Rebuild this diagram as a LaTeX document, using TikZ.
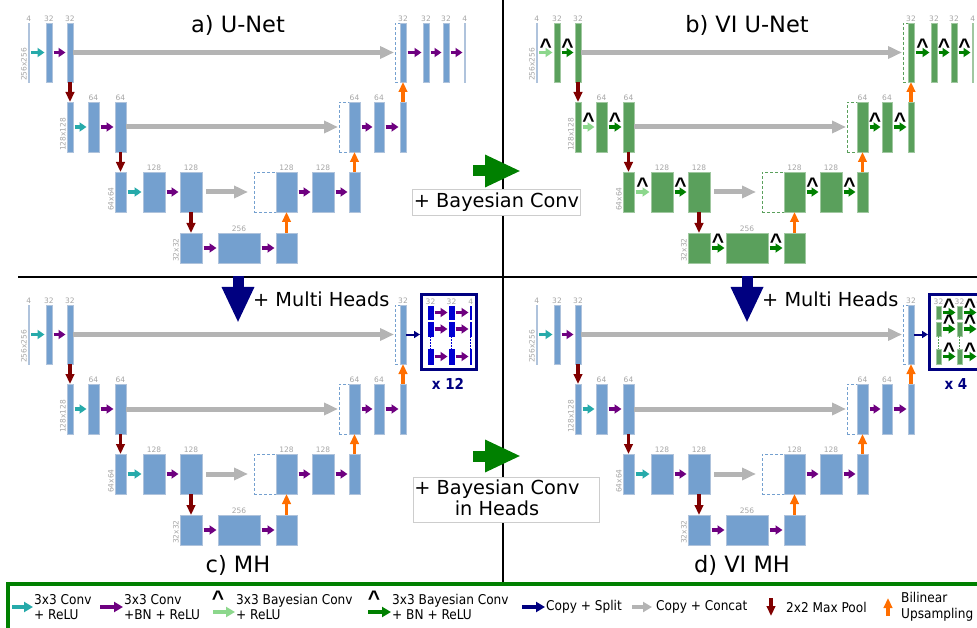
\documentclass[tikz,border=0pt]{standalone}
\usepackage{fontspec}
\setmainfont{DejaVu Sans}
\newfontfamily\lgfont{DejaVu Sans Condensed}
\newfontfamily\hatfont{Liberation Sans}
\usetikzlibrary{arrows.meta}
\definecolor{barblue}{RGB}{116,160,207}
\definecolor{barline}{RGB}{175,195,220}
\definecolor{bargreen}{RGB}{90,160,92}
\definecolor{bargline}{RGB}{160,200,160}
\definecolor{tealc}{RGB}{38,170,170}
\definecolor{purplec}{RGB}{110,0,128}
\definecolor{ltgreen}{RGB}{140,215,140}
\definecolor{darkgreen}{RGB}{0,128,0}
\definecolor{poolred}{RGB}{128,0,0}
\definecolor{uporange}{RGB}{255,110,0}
\definecolor{catgray}{RGB}{180,180,180}
\definecolor{navy}{RGB}{0,0,128}
\definecolor{headblue}{RGB}{0,0,210}
\definecolor{lblgray}{RGB}{165,165,165}
\definecolor{boxgray}{RGB}{205,205,205}
\tikzset{bar/.style={fill=barblue,draw=barline,line width=.4pt,inner sep=0,outer sep=0,anchor=north west}}
\tikzset{gbar/.style={bar,fill=bargreen,draw=bargline}}
\tikzset{hbar/.style={bar,fill=headblue,draw=headblue}}
\tikzset{cat/.style={draw=barblue,dash pattern=on 3pt off 2pt,line width=.9pt,inner sep=0,outer sep=0,anchor=north west}}
\tikzset{gcat/.style={cat,draw=bargreen}}
\tikzset{num/.style={font=\fontsize{7.5}{8}\selectfont,text=lblgray,inner sep=1pt}}
\tikzset{dimlbl/.style={num,rotate=90,anchor=south west}}
\tikzset{arr/.style={line width=3.2pt,-{Triangle[length=7pt,width=9pt]},shorten <=1.5pt,shorten >=1.5pt}}
\tikzset{conv0/.style={arr,tealc}}
\tikzset{conv/.style={arr,purplec}}
\tikzset{bconv0/.style={arr,ltgreen}}
\tikzset{bconv/.style={arr,darkgreen}}
\tikzset{pool/.style={line width=3.5pt,poolred,-{Triangle[length=10pt,width=8.5pt]}}}
\tikzset{upsm/.style={line width=3.5pt,uporange,-{Triangle[length=10pt,width=8.5pt]}}}
\tikzset{concat/.style={line width=5pt,catgray,-{Triangle[length=14pt,width=12pt]},shorten >=1pt}}
\tikzset{split/.style={line width=2pt,navy,-{Triangle[length=6pt,width=7pt]}}}
\tikzset{hat/.style={font=\hatfont\bfseries\fontsize{21}{21}\selectfont,inner sep=0,text=black}}
\tikzset{headbox/.style={draw=navy,line width=3pt,fill=white,inner sep=0}}
\tikzset{hdots/.style={line width=1.8pt,dash pattern=on 1.5pt off 1.5pt}}
\tikzset{cnt/.style={font=\lgfont\bfseries\fontsize{15}{15}\selectfont,text=navy}}
\tikzset{title/.style={font=\fontsize{22.5}{23}\selectfont,anchor=base,inner sep=0}}
\tikzset{plus/.style={font=\fontsize{19.3}{21}\selectfont,inner sep=0}}
\tikzset{tbox/.style={draw=boxgray,fill=white,line width=.8pt}}
\tikzset{divider/.style={line width=1.4pt,black}}
\tikzset{bigarrow/.style={line width=11pt,-{Triangle[length=36pt,width=30pt]}}}
\tikzset{legtxt/.style={font=\lgfont\fontsize{13.5}{15.5}\selectfont,align=left,anchor=west,inner sep=1pt}}
\tikzset{larr/.style={line width=4pt,-{Triangle[length=9pt,width=10pt]}}}

% encoder-decoder body, #1 prefix, #2 bar, #3 concat box, #4 first conv, #5 conv, #6 hat
\newcommand{\unet}[6]{%
% row 1
\node[bar,minimum width=1.5,minimum height=59,label={[num]above:4}] (#1i1) at (28,23) {};
\node[#2,minimum width=6,minimum height=59,label={[num]above:32}] (#1e1a) at (46,23) {};
\node[#2,minimum width=6,minimum height=59,label={[num]above:32}] (#1e1b) at (67,23) {};
\node[#3,minimum width=6,minimum height=59] (#1c1) at (395,23) {};
\node[#2,minimum width=6,minimum height=59,label={[num]above:32}] (#1d1a) at (400,23) {};
\node[dimlbl] (#1s1) at (#1i1.south west) {256x256};
\draw[#4] (#1i1) -- #6 (#1e1a);
\draw[#5] (#1e1a) -- #6 (#1e1b);
\draw[concat] (#1e1b) -- (#1c1);
% row 2
\node[#2,minimum width=6,minimum height=50] (#1p2) at (67,102) {};
\node[#2,minimum width=11,minimum height=50,label={[num]above:64}] (#1e2a) at (88,102) {};
\node[#2,minimum width=11,minimum height=50,label={[num]above:64}] (#1e2b) at (115,102) {};
\node[#3,minimum width=11,minimum height=50] (#1c2) at (339,102) {};
\node[#2,minimum width=11,minimum height=50,label={[num]above:64}] (#1d2a) at (349,102) {};
\node[#2,minimum width=10,minimum height=50,label={[num]above:64}] (#1d2b) at (374,102) {};
\node[#2,minimum width=6,minimum height=50] (#1u2) at (400,102) {};
\node[dimlbl] (#1s2) at (#1p2.south west) {128x128};
\draw[#4] (#1p2) -- #6 (#1e2a);
\draw[#5] (#1e2a) -- #6 (#1e2b);
\draw[concat] (#1e2b) -- (#1c2);
\draw[#5] (#1d2a) -- #6 (#1d2b);
\draw[#5] (#1d2b) -- #6 (#1u2);
\draw[pool] (#1e1b) -- (#1p2);
\draw[upsm] (#1u2) -- (#1d1a);
% row 3
\node[#2,minimum width=11,minimum height=40] (#1p3) at (115,172) {};
\node[#2,minimum width=22,minimum height=40,label={[num]above:128}] (#1e3a) at (143,172) {};
\node[#2,minimum width=22,minimum height=40,label={[num]above:128}] (#1e3b) at (180,172) {};
\node[#3,minimum width=23,minimum height=40] (#1c3) at (254,172) {};
\node[#2,minimum width=21,minimum height=40,label={[num]above:128}] (#1d3a) at (276,172) {};
\node[#2,minimum width=22,minimum height=40,label={[num]above:128}] (#1d3b) at (312,172) {};
\node[#2,minimum width=11,minimum height=40] (#1u3) at (349,172) {};
\node[dimlbl] (#1s3) at (#1p3.south west) {64x64};
\draw[#4] (#1p3) -- #6 (#1e3a);
\draw[#5] (#1e3a) -- #6 (#1e3b);
\draw[concat,shorten <=4pt,shorten >=6pt] (#1e3b) -- (#1c3);
\draw[#5] (#1d3a) -- #6 (#1d3b);
\draw[#5] (#1d3b) -- #6 (#1u3);
\draw[pool] (#1e2b) -- (#1p3);
\draw[upsm] (#1u3) -- (#1d2a);
% row 4
\node[#2,minimum width=22,minimum height=30] (#1p4) at (180,233) {};
\node[#2,minimum width=42,minimum height=30,label={[num]above:256}] (#1b4) at (218,233) {};
\node[#2,minimum width=21,minimum height=30] (#1u4) at (276,233) {};
\node[dimlbl] (#1s4) at (#1p4.south west) {32x32};
\draw[#5] (#1p4) -- #6 (#1b4);
\draw[#5] (#1b4) -- #6 (#1u4);
\draw[pool] (#1e3b) -- (#1p4);
\draw[upsm] (#1u4) -- (#1d3a);
}

% top right of the plain nets, #1 prefix, #2 bar, #3 conv, #4 hat
\newcommand{\tail}[4]{%
\node[#2,minimum width=6,minimum height=59,label={[num]above:32}] (#1d1b) at (423,23) {};
\node[#2,minimum width=6,minimum height=59,label={[num]above:32}] (#1d1c) at (443,23) {};
\node[#2,minimum width=1.5,minimum height=59,label={[num]above:4}] (#1o1) at (464,23) {};
\draw[#3] (#1d1a) -- #4 (#1d1b);
\draw[#3] (#1d1b) -- #4 (#1d1c);
\draw[#3] (#1d1c) -- #4 (#1o1);
}

% multi heads, #1 prefix, #2 bar, #3 conv, #4 hat, #5 dot colour, #6 count
\newcommand{\heads}[6]{%
\node[headbox,minimum width=55,minimum height=75] (#1hb) at (449,50) {};
\draw[split] (#1d1a.east) -- (#1d1a.east -| #1hb.west);
\foreach \rw/\tp/\ht in {1/24/13,2/40/14,3/67/15} {
  \node[#2,minimum width=5,minimum height=\ht] (#1h\rw a) at (428,\tp) {};
  \node[#2,minimum width=5,minimum height=\ht] (#1h\rw b) at (449,\tp) {};
  \node[#2,minimum width=1.5,minimum height=\ht] (#1h\rw c) at (470,\tp) {};
  \draw[#3] (#1h\rw a) -- #4 (#1h\rw b);
  \draw[#3] (#1h\rw b) -- #4 (#1h\rw c);
}
\node[num,anchor=south] (#1hla) at (#1h1a.north) {32};
\node[num,anchor=south] (#1hlb) at (#1h1b.north) {32};
\node[num,anchor=south] (#1hlc) at (#1h1c.north) {4};
\draw[hdots,#5] (#1h2a) -- (#1h3a);
\draw[hdots,#5] (#1h2b) -- (#1h3b);
\draw[hdots,#5,line width=1.2pt] (#1h2c) -- (#1h3c);
\node[cnt] (#1hn) at (448,102) {#6};
}

\begin{document}
\begin{tikzpicture}[x=1pt,y=-1pt]
\useasboundingbox (0,0) rectangle (977,628);
\clip (0,0) rectangle (977,628);
% dividers
\draw[divider] (18,277) -- (977,277);
\draw[divider] (503,0) -- (503,584);

% a) U-Net
\unet{a}{bar}{cat}{conv0}{conv}{}
\tail{a}{bar}{conv}{}
\node[title] (ta) at (238,33) {a) U-Net};

% b) VI U-Net
\begin{scope}[shift={(508,0)}]
\unet{b}{gbar}{gcat}{bconv0}{bconv}{node[hat,above=-2.5pt] {\textasciicircum}}
\tail{b}{gbar}{bconv}{node[hat,above=-2.5pt] {\textasciicircum}}
\node[title] (tb) at (239,33) {b) VI U-Net};
\end{scope}

% c) MH
\begin{scope}[shift={(0,282)}]
\unet{c}{bar}{cat}{conv0}{conv}{}
\heads{c}{hbar}{conv}{}{headblue}{x 12}
\node[title] (tc) at (238,290) {c) MH};
\end{scope}

% d) VI MH
\begin{scope}[shift={(508,282)}]
\unet{d}{bar}{cat}{conv0}{conv}{}
\heads{d}{gbar}{bconv}{node[hat,above=-3pt] {\textasciicircum}}{bargreen}{x 4}
\node[title] (td) at (234,290) {d) VI MH};
\end{scope}

% steps between panels
\coordinate (gs1) at (473,171);
\coordinate (ge1) at (521,171);
\draw[bigarrow,darkgreen] (gs1) -- (ge1);
\node[tbox,plus,anchor=west,inner xsep=1.5pt,minimum height=26] (bc1) at (412,202) {+ Bayesian Conv};
\coordinate (gs2) at (473,456);
\coordinate (ge2) at (521,456);
\draw[bigarrow,darkgreen] (gs2) -- (ge2);
\node[tbox,minimum width=186,minimum height=45,anchor=north west] (bc2) at (413,477) {};
\node[plus,align=center] (bc2t) at (497,498) {+ Bayesian Conv\\in Heads};
\coordinate (ns1) at (238,276);
\coordinate (ne1) at (238,323);
\draw[bigarrow,navy] (ns1) -- (ne1);
\node[plus,anchor=base west] (mh1) at (253,307) {+ Multi Heads};
\coordinate (ns2) at (747,276);
\coordinate (ne2) at (747,323);
\draw[bigarrow,navy] (ns2) -- (ne2);
\node[plus,anchor=base west] (mh2) at (762,307) {+ Multi Heads};

% legend
\draw[darkgreen,line width=4pt] (8,584) rectangle (990,640);
\node[legtxt] (l1) at (33,607) {3x3 Conv\\+ ReLU};
\draw[larr,tealc] ([xshift=-21pt]l1.west) -- (l1.west);
\node[legtxt] (l2) at (123,607) {3x3 Conv\\+BN + ReLU};
\draw[larr,purplec] ([xshift=-23pt]l2.west) -- (l2.west);
\node[legtxt] (l3) at (235,607) {3x3 Bayesian Conv\\+ ReLU};
\draw[larr,ltgreen] ([xshift=-22pt,yshift=-5pt]l3.west) -- ([yshift=-5pt]l3.west);
\node[hat,anchor=south] (lh3) at (218,606) {\textasciicircum};
\node[legtxt] (l4) at (391,607) {3x3 Bayesian Conv\\+ BN + ReLU};
\draw[larr,darkgreen] ([xshift=-23pt,yshift=-5pt]l4.west) -- ([yshift=-5pt]l4.west);
\node[hat,anchor=south] (lh4) at (374,606) {\textasciicircum};
\node[legtxt] (l5) at (545,607) {Copy + Split};
\draw[larr,navy] ([xshift=-23pt]l5.west) -- (l5.west);
\node[legtxt] (l6) at (655,607) {Copy + Concat};
\draw[larr,catgray] ([xshift=-23pt]l6.west) -- ([xshift=-3pt]l6.west);
\node[legtxt] (l7) at (785,607) {2x2 Max Pool};
\coordinate (l7t) at (771,598);
\coordinate (l7b) at (771,616);
\draw[pool] (l7t) -- (l7b);
\node[legtxt] (l8) at (900,607) {Bilinear\\Upsampling};
\coordinate (l8b) at (888,616);
\coordinate (l8t) at (888,598);
\draw[upsm] (l8b) -- (l8t);
\end{tikzpicture}
\end{document}
